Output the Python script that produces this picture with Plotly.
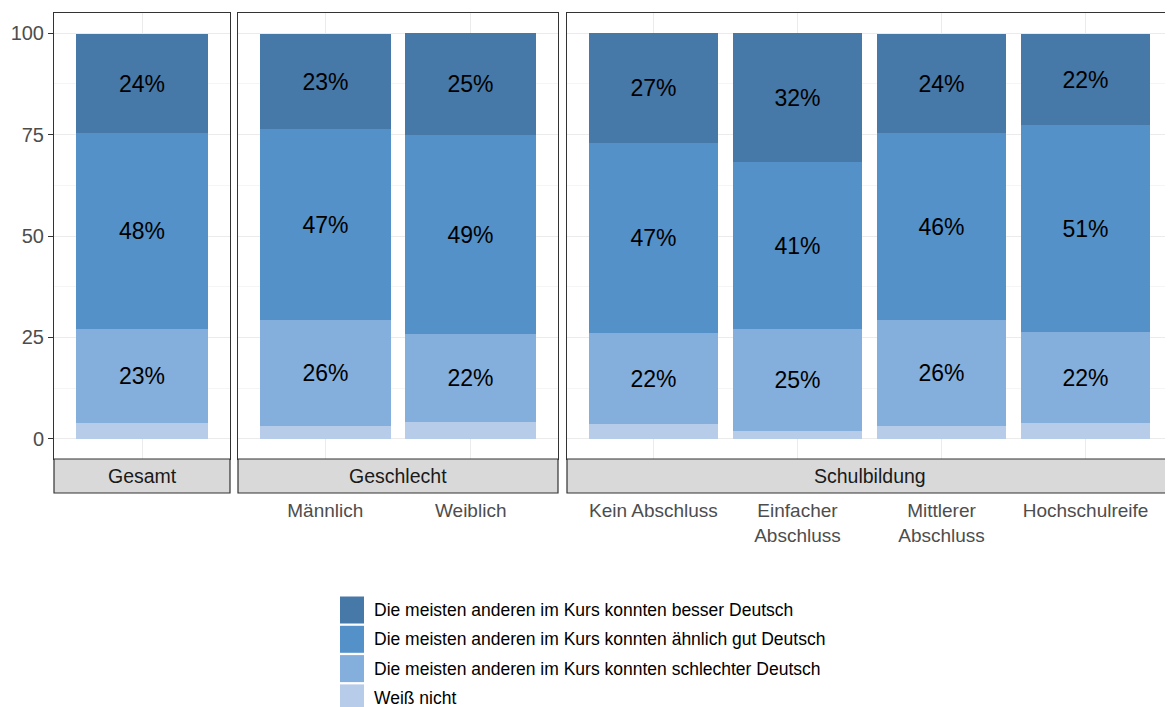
import plotly.graph_objects as go

# ---------------- data ----------------
groups = ["Gesamt", "Geschlecht", "Schulbildung"]
categories = [
    ["Gesamt"],
    ["Männlich", "Weiblich"],
    ["Kein Abschluss", "Einfacher Abschluss", "Mittlerer Abschluss", "Hochschulreife"],
]
tick_labels = [
    [""],
    ["Männlich", "Weiblich"],
    ["Kein Abschluss", "Einfacher<br>Abschluss", "Mittlerer<br>Abschluss", "Hochschulreife"],
]
series_names = [
    "Weiß nicht",
    "Die meisten anderen im Kurs konnten schlechter Deutsch",
    "Die meisten anderen im Kurs konnten ähnlich gut Deutsch",
    "Die meisten anderen im Kurs konnten besser Deutsch",
]
weiss_nicht = [[3.8], [3.2, 4.1], [3.7, 1.9, 3.2, 4.0]]
schlechter = [[23.3], [26.0, 21.7], [22.3, 25.2, 26.2, 22.4]]
aehnlich = [[48.4], [47.3, 49.1], [46.9, 41.1, 46.0, 51.1]]
besser = [[24.4], [23.4, 25.1], [27.1, 31.8, 24.4, 22.4]]
series_values = [weiss_nicht, schlechter, aehnlich, besser]
series_colors = ["#B7CCE8", "#84AEDB", "#5391C8", "#4678A8"]
series_show_label = [False, True, True, True]
y_ticks = [0, 25, 50, 75, 100]

# ---------------- layout geometry ----------------
OFF = 8  # page body margin
W, H = 1173 - OFF, 707 - OFF
ML, MR, MT, MB = 54 - OFF, 1, 13 - OFF, 248
PW = W - ML - MR
PH = H - MT - MB
domains = [[0, 176 / PW], [184 / PW, 504 / PW], [513 / PW, 1.0]]
FONT = "Liberation Sans, Arial"

fig = go.Figure()

for gi, cats in enumerate(categories):
    ax = "" if gi == 0 else str(gi + 1)
    for si, name in enumerate(series_names):
        vals = series_values[si][gi]
        txt = [f"{v:.0f}%" if series_show_label[si] else "" for v in vals]
        fig.add_trace(go.Bar(
            x=cats, y=vals, name=name,
            marker=dict(color=series_colors[si], line=dict(width=0)),
            width=0.9,
            text=txt, textposition="inside", insidetextanchor="middle",
            textangle=0, constraintext="none",
            textfont=dict(size=23, color="black", family=FONT),
            xaxis="x" + ax, yaxis="y" + ax,
            showlegend=False, hoverinfo="x+y+name",
        ))

axis_common = dict(showline=True, mirror=True, linecolor="#333333", linewidth=1,
                   zeroline=False)
layout = dict(
    width=W, height=H, autosize=False,
    margin=dict(l=ML, r=MR, t=MT, b=MB, pad=0),
    barmode="stack", bargap=0,
    plot_bgcolor="white", paper_bgcolor="white",
    font=dict(family=FONT, size=18, color="#4D4D4D"),
    showlegend=False,
)
for gi, cats in enumerate(categories):
    ax = "" if gi == 0 else str(gi + 1)
    layout["xaxis" + ax] = dict(
        axis_common, domain=domains[gi], anchor="y" + ax,
        type="category", range=[-0.6, len(cats) - 0.4],
        tickvals=cats, ticktext=tick_labels[gi],
        showticklabels=(gi != 0), ticks="",
        ticklabelstandoff=34,
        showgrid=True, gridcolor="#EBEBEB", gridwidth=1.1,
        tickfont=dict(size=19, color="#4D4D4D"),
    )
    layout["yaxis" + ax] = dict(
        axis_common, anchor="x" + ax, range=[-5, 105],
        tickvals=y_ticks, ticktext=[str(t) for t in y_ticks],
        showticklabels=(gi == 0), ticks="outside" if gi == 0 else "",
        ticklen=5, tickwidth=1, tickcolor="#333333",
        showgrid=True, gridcolor="#EBEBEB", gridwidth=1.1,
        minor=dict(tickvals=[12.5, 37.5, 62.5, 87.5], showgrid=True,
                   gridcolor="#F5F5F5", gridwidth=0.6, ticks=""),
        tickfont=dict(size=20, color="#4D4D4D"),
    )
    if gi != 0:
        layout["yaxis" + ax]["matches"] = "y"

shapes = []
annotations = []
strip_h = 34 / PH
for gi, g in enumerate(groups):
    xr = ("x" if gi == 0 else "x" + str(gi + 1)) + " domain"
    shapes.append(dict(type="rect", xref=xr, yref="paper", x0=0, x1=1,
                       y0=-strip_h, y1=0, fillcolor="#D9D9D9",
                       line=dict(color="#333333", width=1.2), layer="above"))
    annotations.append(dict(xref=xr, yref="paper", x=0.5, y=-strip_h / 2,
                            text=g, showarrow=False, xanchor="center", yanchor="middle",
                            font=dict(size=19.5, color="#1A1A1A")))

# custom legend (big keys as in the reference)
leg_x0 = (340 - OFF - ML) / PW
leg_x1 = (364 - OFF - ML) / PW
leg_tx = (372 - OFF - ML) / PW
bottom_px = MT + PH
for k, si in enumerate(reversed(range(len(series_names)))):
    cy = 610 - OFF + k * 29.3
    shapes.append(dict(type="rect", xref="paper", yref="paper",
                       x0=leg_x0, x1=leg_x1,
                       y0=(bottom_px - (cy + 13.5)) / PH, y1=(bottom_px - (cy - 13.5)) / PH,
                       fillcolor=series_colors[si], line=dict(width=0)))
    annotations.append(dict(xref="paper", yref="paper", x=leg_tx, y=(bottom_px - cy) / PH,
                            text=series_names[si], showarrow=False,
                            xanchor="left", yanchor="middle",
                            font=dict(size=17.5, color="#000000")))

layout["shapes"] = shapes
layout["annotations"] = annotations
fig.update_layout(**layout)
fig.write_html("out.html")
